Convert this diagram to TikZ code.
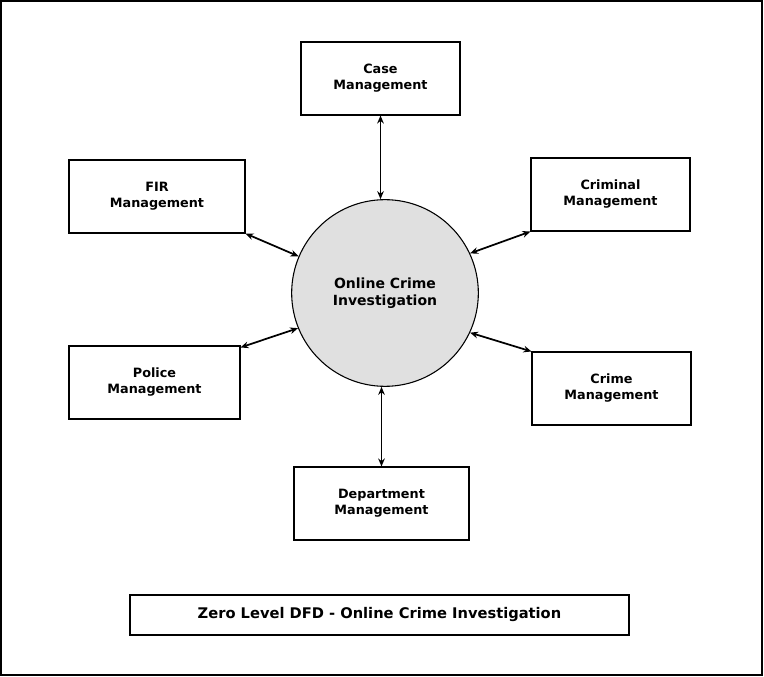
\documentclass[tikz,border=0pt]{standalone}
\usepackage{fontspec}
\setmainfont{DejaVu Sans}
\usetikzlibrary{arrows.meta}
\begin{document}
\begin{tikzpicture}[x=0.75pt,y=-0.75pt,
  box/.style={draw,thick,inner sep=0,align=center,font=\bfseries\fontsize{9.6}{12}\selectfont},
  arr/.style={line width=1.3pt,{Stealth[length=6pt,width=5pt]}-{Stealth[length=6pt,width=5pt]}}]
\useasboundingbox (0,0) rectangle (764,677);
\draw[thick] (1,1) rectangle (762,675);
\node[box,minimum width=119.25pt,minimum height=54.75pt] (case) at (380.5,78.5) {Case\\Management};
\node[box,minimum width=132pt,minimum height=54.75pt] (fir) at (157,196.5) {FIR\\Management};
\node[box,minimum width=119.25pt,minimum height=54.75pt] (crim) at (610.5,194.5) {Criminal\\Management};
\node[box,minimum width=128.25pt,minimum height=54.75pt] (pol) at (154.5,382.5) {Police\\Management};
\node[box,minimum width=119.25pt,minimum height=54.75pt] (crime) at (611.5,388.5) {Crime\\Management};
\node[box,minimum width=131.25pt,minimum height=54.75pt] (dept) at (381.5,503.5) {Department\\Management};
\node[draw,thick,circle,fill=black!12,minimum size=140pt,inner sep=0,align=center,font=\bfseries\fontsize{10.5}{12.8}\selectfont] (c) at (385,293) {Online Crime\\Investigation};
\node[box,minimum width=374.25pt,minimum height=30pt,font=\bfseries\fontsize{11}{13}\selectfont] (title) at (379.5,615) {Zero Level DFD - Online Crime Investigation};
\draw[arr] (c.north -| case.south) -- (case.south);
\draw[arr] (c.south -| dept.north) -- (dept.north);
\draw[arr] (c.157) -- (fir.south east);
\draw[arr] (c.25) -- (crim.south west);
\draw[arr] (c.202) -- ([yshift=-1.5pt]pol.north east);
\draw[arr] (c.335) -- (crime.north west);
\end{tikzpicture}
\end{document}
